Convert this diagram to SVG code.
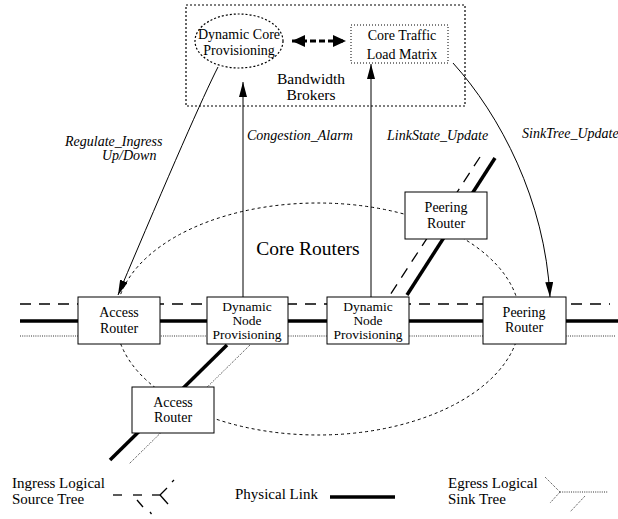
<svg xmlns="http://www.w3.org/2000/svg" width="618" height="519" viewBox="0 0 618 519">
<style>
text{font-family:"Liberation Serif","Times New Roman",serif;fill:#000}
.t{font-size:14px;text-anchor:middle}
.n{font-size:13.5px;text-anchor:middle}
.i{font-size:14px;font-style:italic}
.lg{font-size:15px}
.box{fill:#fff;stroke:#000;stroke-width:1}
.thick{stroke:#000;stroke-width:3.5;fill:none}
.dash{stroke:#000;stroke-width:1.3;stroke-dasharray:11 8;fill:none}
.dot{stroke:#333;stroke-width:1;stroke-dasharray:1 1.2;fill:none}
.thin{stroke:#000;stroke-width:1;fill:none}
</style>
<defs>
<marker id="ah" markerWidth="16" markerHeight="9" refX="15" refY="4" orient="auto" markerUnits="userSpaceOnUse">
<path d="M0,0 L15,4 L0,8 z" fill="#000"/>
</marker>
<marker id="ahb" markerWidth="14" markerHeight="13" refX="13" refY="6" orient="auto-start-reverse" markerUnits="userSpaceOnUse">
<path d="M0,0 L13,6 L0,12 z" fill="#000"/>
</marker>
</defs>

<g id="core-routers-region">
<ellipse cx="318" cy="319" rx="202" ry="116" fill="none" stroke="#000" stroke-width="1" stroke-dasharray="3 3"/>
<text x="308" y="255" style="font-size:19.5px;text-anchor:middle">Core Routers</text>
</g>

<g id="links">
<line x1="20" y1="304" x2="610" y2="304" class="dash"/>
<line x1="20" y1="321" x2="618" y2="321" class="thick"/>
<line x1="20" y1="336" x2="616" y2="336" class="dot"/>
<line x1="495" y1="158" x2="407" y2="295" class="thick"/>
<line x1="480" y1="157" x2="390" y2="295" class="dash"/>
<line x1="227" y1="345" x2="110" y2="460" class="thick"/>
<line x1="250" y1="345" x2="129" y2="464" class="dot"/>
</g>

<g id="bandwidth-brokers">
<rect x="186" y="5" width="279" height="101" fill="none" stroke="#000" stroke-width="1.2" stroke-dasharray="2 2"/>
<text x="311" y="84" class="t" style="font-size:15.5px">Bandwidth</text>
<text x="311" y="100" class="t" style="font-size:15.5px">Brokers</text>
</g>

<g id="dynamic-core-provisioning">
<ellipse cx="239" cy="41" rx="44" ry="27" fill="none" stroke="#000" stroke-width="1.2" stroke-dasharray="2 2"/>
<text x="239" y="39" class="t">Dynamic Core</text>
<text x="239" y="55" class="t">Provisioning</text>
</g>

<g id="core-traffic-load-matrix">
<rect x="351" y="25" width="97" height="38" fill="none" stroke="#000" stroke-width="1" stroke-dasharray="1 2"/>
<text x="402" y="40" class="t">Core Traffic</text>
<text x="402" y="59" class="t">Load Matrix</text>
</g>

<g id="connectors">
<line x1="292" y1="41" x2="346" y2="41" stroke="#000" stroke-width="3" stroke-dasharray="6 3" marker-start="url(#ahb)" marker-end="url(#ahb)"/>
<path d="M218,67 Q196,110 118,295" class="thin" marker-end="url(#ah)"/>
<line x1="243" y1="297" x2="243" y2="82" class="thin" marker-end="url(#ah)"/>
<line x1="371" y1="297" x2="371" y2="64" class="thin" marker-end="url(#ah)"/>
<path d="M453,63 C500,115 545,200 550,297" class="thin" marker-end="url(#ah)"/>
<text x="65" y="146" class="i">Regulate_Ingress</text>
<text x="102" y="160" class="i">Up/Down</text>
<text x="247" y="140" class="i">Congestion_Alarm</text>
<text x="387" y="140" class="i">LinkState_Update</text>
<text x="522" y="138" class="i">SinkTree_Update</text>
</g>

<g id="access-router-1">
<rect x="78" y="297" width="82" height="47" class="box"/>
<text x="119" y="317" class="t">Access</text>
<text x="119" y="333" class="t">Router</text>
</g>

<g id="dnp-1">
<rect x="207" y="297" width="81" height="47" class="box"/>
<text x="247" y="311" class="n">Dynamic</text>
<text x="247" y="325" class="n">Node</text>
<text x="247" y="339" class="n">Provisioning</text>
</g>

<g id="dnp-2">
<rect x="327" y="297" width="82" height="47" class="box"/>
<text x="368" y="311" class="n">Dynamic</text>
<text x="368" y="325" class="n">Node</text>
<text x="368" y="339" class="n">Provisioning</text>
</g>

<g id="peering-router-1">
<rect x="483" y="297" width="83" height="47" class="box"/>
<text x="524" y="317" class="t">Peering</text>
<text x="524" y="332" class="t">Router</text>
</g>

<g id="peering-router-2">
<rect x="405" y="192" width="82" height="47" class="box"/>
<text x="446" y="212" class="t">Peering</text>
<text x="446" y="228" class="t">Router</text>
</g>

<g id="access-router-2">
<rect x="132" y="387" width="82" height="46" class="box"/>
<text x="173" y="407" class="t">Access</text>
<text x="173" y="422" class="t">Router</text>
</g>

<g id="legend">
<text x="12" y="488" class="lg">Ingress Logical</text>
<text x="12" y="504" class="lg">Source Tree</text>
<g stroke="#000" stroke-width="1.3" fill="none">
<line x1="113" y1="495" x2="122" y2="495"/>
<line x1="133" y1="495" x2="142" y2="495"/>
<line x1="152" y1="495" x2="160" y2="495"/>
<line x1="160" y1="495" x2="167" y2="488"/>
<line x1="160" y1="495" x2="168" y2="504"/>
<line x1="172" y1="482" x2="174" y2="480"/>
<line x1="137" y1="500" x2="143" y2="507"/>
<line x1="150" y1="512" x2="151.5" y2="514"/>
</g>
<text x="235" y="499" class="lg">Physical Link</text>
<line x1="330" y1="497" x2="395" y2="497" class="thick"/>
<text x="448" y="488" class="lg">Egress Logical</text>
<text x="448" y="504" class="lg">Sink Tree</text>
<g class="dot">
<line x1="545" y1="477" x2="560" y2="492"/>
<line x1="560" y1="492" x2="550" y2="503"/>
<line x1="560" y1="492" x2="608" y2="492"/>
<line x1="585" y1="496" x2="570" y2="512"/>
</g>
</g>
</svg>
